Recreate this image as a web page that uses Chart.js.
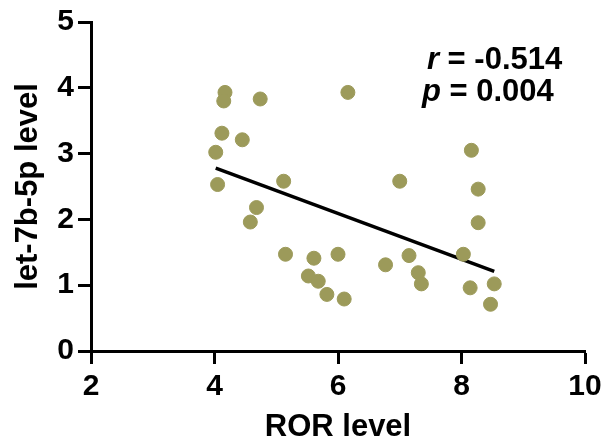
<!DOCTYPE html>
<html lang="en">
<head>
    <meta charset="UTF-8">
    <title>ROR vs let-7b-5p</title>
    <script src="https://cdn.jsdelivr.net/npm/chart.js"></script>
    <style>
        html, body { margin: 0; padding: 0; background: #fff; }
        canvas { display: block; }
    </style>
</head>
<body>
    <canvas id="scatter" width="612" height="448"></canvas>

    <script>
        // samples
        const rorLevel = [4.17, 4.15, 4.74, 6.16, 4.12, 4.45, 4.02, 4.05, 5.12, 4.68,
                          4.58, 5.15, 5.61, 6.00, 5.52, 5.68, 5.82, 6.10, 8.16, 7.00,
                          8.27, 8.27, 6.77, 7.15, 8.03, 7.30, 7.35, 8.14, 8.53, 8.47];
        const let7bLevel = [3.93, 3.80, 3.83, 3.93, 3.31, 3.21, 3.02, 2.53, 2.58, 2.18,
                            1.96, 1.47, 1.41, 1.47, 1.14, 1.06, 0.86, 0.79, 3.05, 2.58,
                            2.46, 1.95, 1.31, 1.45, 1.47, 1.19, 1.02, 0.96, 1.02, 0.71];

        // fitted line end points
        const fitX = [4.02, 8.53];
        const fitY = [2.78, 1.21];

        const xTicks = [2, 4, 6, 8, 10];
        const yTicks = [0, 1, 2, 3, 4, 5];

        const statsText = [
            { sym: 'r', rest: ' = -0.514', x: 7.44, y: 4.41 },
            { sym: 'p', rest: ' = 0.004', x: 7.36, y: 3.93 }
        ];

        const FONT = '"Liberation Sans", Arial, sans-serif';

        const statsPlugin = {
            id: 'stats',
            afterDatasetsDraw(chart) {
                const ctx = chart.ctx;
                const xs = chart.scales.x, ys = chart.scales.y;
                ctx.save();
                ctx.fillStyle = '#000';
                ctx.textBaseline = 'middle';
                ctx.textAlign = 'left';
                statsText.forEach(s => {
                    let px = xs.getPixelForValue(s.x);
                    const py = ys.getPixelForValue(s.y);
                    ctx.font = 'italic bold 31px ' + FONT;
                    ctx.fillText(s.sym, px, py);
                    px += ctx.measureText(s.sym).width;
                    ctx.font = 'bold 31px ' + FONT;
                    ctx.fillText(s.rest, px, py);
                });
                ctx.restore();
            }
        };

        const ctx = document.getElementById('scatter').getContext('2d');
        new Chart(ctx, {
            type: 'scatter',
            data: {
                datasets: [{
                    label: 'samples',
                    data: rorLevel.map((v, i) => ({ x: v, y: let7bLevel[i] })),
                    backgroundColor: '#9c9a5a',
                    borderColor: '#9c9a5a',
                    pointRadius: 7,
                    pointHoverRadius: 7
                }, {
                    type: 'line',
                    label: 'fit',
                    data: fitX.map((v, i) => ({ x: v, y: fitY[i] })),
                    borderColor: '#000',
                    borderWidth: 3.5,
                    pointRadius: 0,
                    fill: false
                }]
            },
            options: {
                responsive: false,
                animation: false,
                layout: { padding: { top: 20, right: 27, left: 0, bottom: 0 } },
                plugins: { legend: { display: false }, tooltip: { enabled: false } },
                scales: {
                    x: {
                        type: 'linear',
                        min: 2, max: 10,
                        afterBuildTicks: s => { s.ticks = xTicks.map(v => ({ value: v })); },
                        afterFit: s => { s.height = 97; },
                        border: { color: '#000', width: 3 },
                        grid: { drawOnChartArea: false, color: '#000', tickLength: 13, tickWidth: 3 },
                        ticks: { color: '#000', padding: 5, font: { family: FONT, size: 30, weight: 'bold' } },
                        title: { display: true, text: 'ROR level', color: '#000', padding: { top: 0, bottom: 2 },
                                 font: { family: FONT, size: 31, weight: 'bold' } }
                    },
                    y: {
                        type: 'linear',
                        min: 0, max: 5,
                        afterBuildTicks: s => { s.ticks = yTicks.map(v => ({ value: v })); },
                        afterFit: s => { s.width = 91; },
                        border: { color: '#000', width: 3 },
                        grid: { drawOnChartArea: false, color: '#000', tickLength: 13, tickWidth: 3 },
                        ticks: { color: '#000', padding: 4, font: { family: FONT, size: 30, weight: 'bold' } },
                        title: { display: true, text: 'let-7b-5p level', color: '#000', padding: { top: 10, bottom: 0 },
                                 font: { family: FONT, size: 31, weight: 'bold' } }
                    }
                }
            },
            plugins: [statsPlugin]
        });
    </script>
</body>
</html>
